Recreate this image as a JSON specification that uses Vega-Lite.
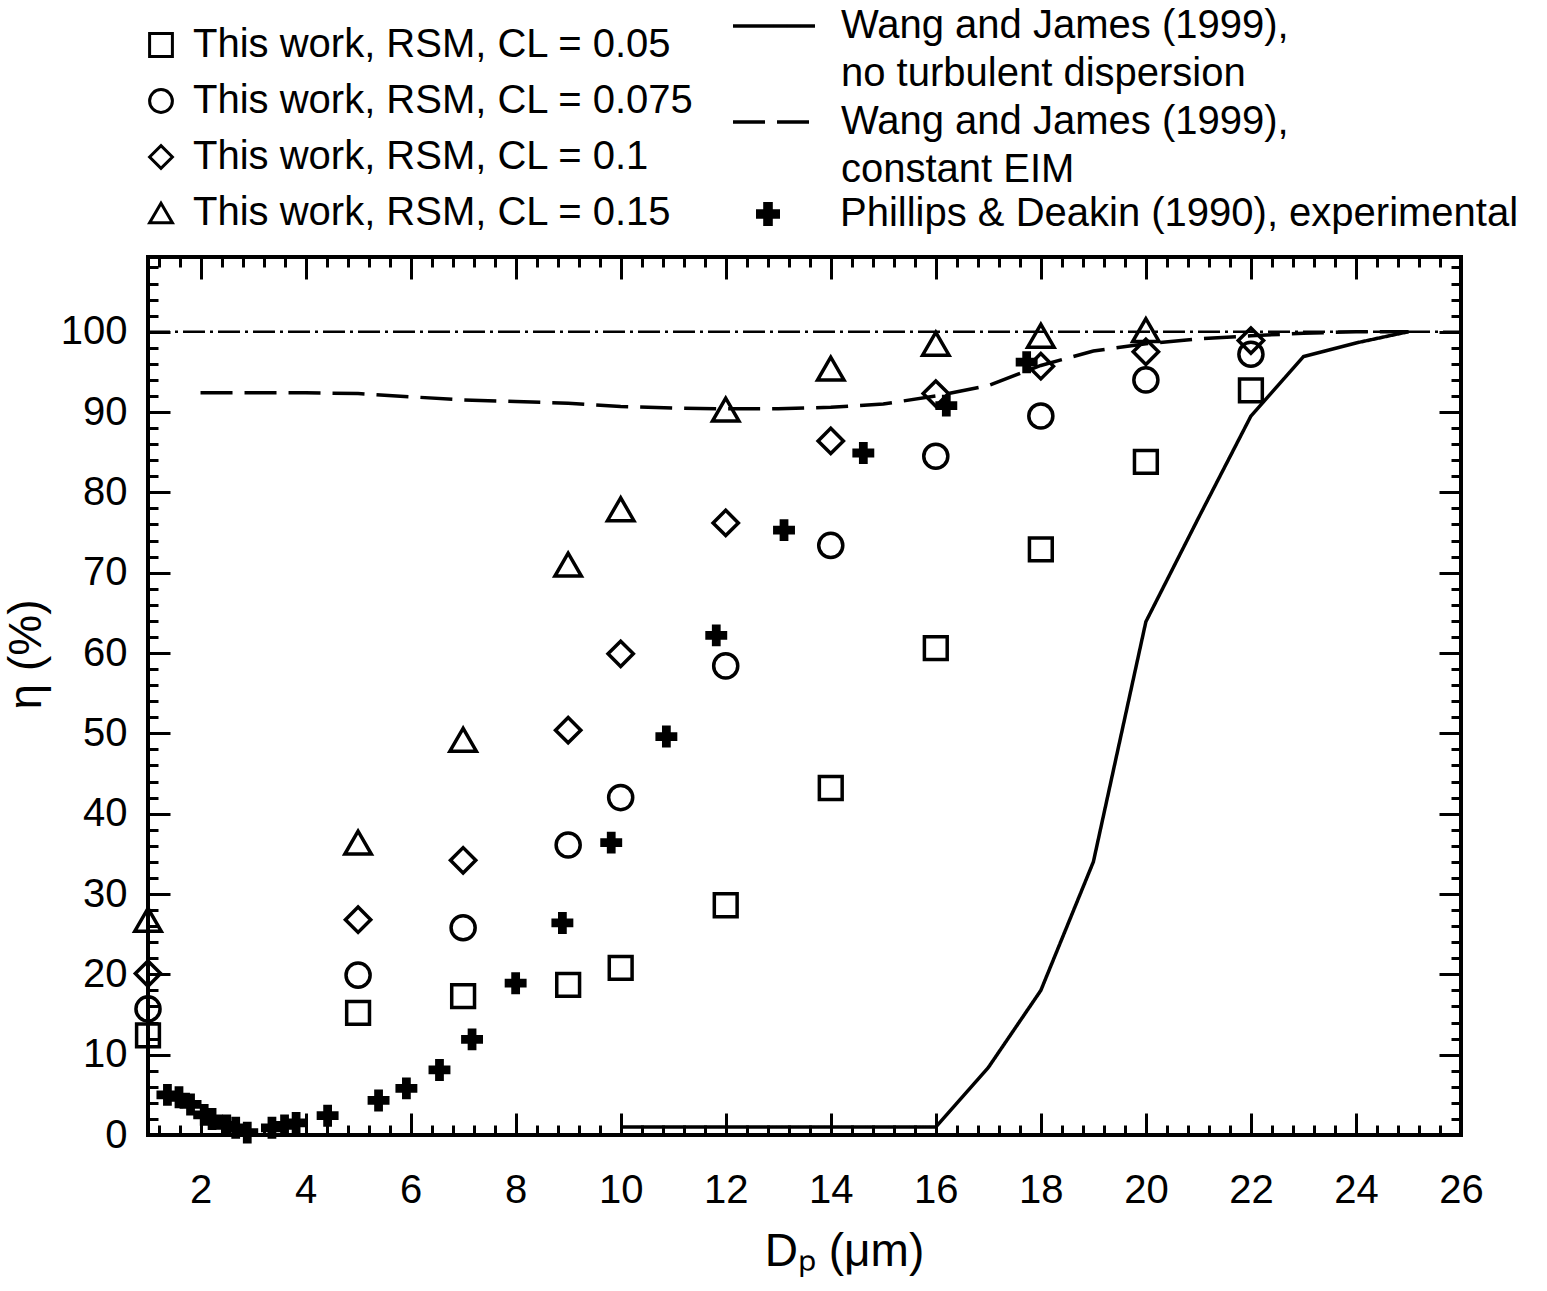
{
  "$schema": "https://vega.github.io/schema/vega-lite/v6.json",
  "description": "Collection efficiency vs particle diameter: RSM results, Wang and James (1999) models, Phillips & Deakin (1990) experiments.",
  "autosize": {"type": "none"},
  "padding": {"left": 148, "top": 257, "right": 86, "bottom": 156},
  "width": 1313,
  "height": 878,
  "background": "white",
  "datasets": {
    "rsm": [
      {"cl": "0.05", "dp": 1, "eta": 12.4},
      {"cl": "0.05", "dp": 5, "eta": 15.2},
      {"cl": "0.05", "dp": 7, "eta": 17.3},
      {"cl": "0.05", "dp": 9, "eta": 18.7},
      {"cl": "0.05", "dp": 10, "eta": 20.8},
      {"cl": "0.05", "dp": 12, "eta": 28.6},
      {"cl": "0.05", "dp": 14, "eta": 43.2},
      {"cl": "0.05", "dp": 16, "eta": 60.6},
      {"cl": "0.05", "dp": 18, "eta": 72.9},
      {"cl": "0.05", "dp": 20, "eta": 83.8},
      {"cl": "0.05", "dp": 22, "eta": 92.7},
      {"cl": "0.075", "dp": 1, "eta": 15.7},
      {"cl": "0.075", "dp": 5, "eta": 19.9},
      {"cl": "0.075", "dp": 7, "eta": 25.8},
      {"cl": "0.075", "dp": 9, "eta": 36.1},
      {"cl": "0.075", "dp": 10, "eta": 42.0},
      {"cl": "0.075", "dp": 12, "eta": 58.4},
      {"cl": "0.075", "dp": 14, "eta": 73.4},
      {"cl": "0.075", "dp": 16, "eta": 84.5},
      {"cl": "0.075", "dp": 18, "eta": 89.5},
      {"cl": "0.075", "dp": 20, "eta": 94.0},
      {"cl": "0.075", "dp": 22, "eta": 97.2},
      {"cl": "0.1", "dp": 1, "eta": 20.1},
      {"cl": "0.1", "dp": 5, "eta": 26.8},
      {"cl": "0.1", "dp": 7, "eta": 34.2},
      {"cl": "0.1", "dp": 9, "eta": 50.4},
      {"cl": "0.1", "dp": 10, "eta": 59.9},
      {"cl": "0.1", "dp": 12, "eta": 76.2},
      {"cl": "0.1", "dp": 14, "eta": 86.4},
      {"cl": "0.1", "dp": 16, "eta": 92.3},
      {"cl": "0.1", "dp": 18, "eta": 95.7},
      {"cl": "0.1", "dp": 20, "eta": 97.5},
      {"cl": "0.1", "dp": 22, "eta": 98.9},
      {"cl": "0.15", "dp": 1, "eta": 26.8},
      {"cl": "0.15", "dp": 5, "eta": 36.4},
      {"cl": "0.15", "dp": 7, "eta": 49.2},
      {"cl": "0.15", "dp": 9, "eta": 71.0},
      {"cl": "0.15", "dp": 10, "eta": 77.9},
      {"cl": "0.15", "dp": 12, "eta": 90.3},
      {"cl": "0.15", "dp": 14, "eta": 95.4},
      {"cl": "0.15", "dp": 16, "eta": 98.5},
      {"cl": "0.15", "dp": 18, "eta": 99.5},
      {"cl": "0.15", "dp": 20, "eta": 100.2}
    ],
    "exp": [
      {"dp": 1.37, "eta": 5.0},
      {"dp": 1.59, "eta": 4.7},
      {"dp": 1.81, "eta": 3.8},
      {"dp": 2.07, "eta": 2.5},
      {"dp": 2.22, "eta": 2.0},
      {"dp": 2.5, "eta": 1.2},
      {"dp": 2.67, "eta": 0.9},
      {"dp": 2.89, "eta": 0.3},
      {"dp": 3.36, "eta": 0.9},
      {"dp": 3.6, "eta": 1.2},
      {"dp": 3.82, "eta": 1.5},
      {"dp": 4.42, "eta": 2.4},
      {"dp": 5.39, "eta": 4.3},
      {"dp": 5.92, "eta": 5.8},
      {"dp": 6.55, "eta": 8.1},
      {"dp": 7.17, "eta": 11.9},
      {"dp": 8.0, "eta": 18.9},
      {"dp": 8.89, "eta": 26.4},
      {"dp": 9.82, "eta": 36.4},
      {"dp": 10.87, "eta": 49.6},
      {"dp": 11.82, "eta": 62.2},
      {"dp": 13.11, "eta": 75.3},
      {"dp": 14.62, "eta": 84.9},
      {"dp": 16.2, "eta": 90.8},
      {"dp": 17.73, "eta": 96.2}
    ],
    "wang": [
      {"model": "a", "dp": 10, "eta": 1.0},
      {"model": "a", "dp": 16, "eta": 1.0},
      {"model": "a", "dp": 17, "eta": 8.4},
      {"model": "a", "dp": 18, "eta": 18.0},
      {"model": "a", "dp": 19, "eta": 34.0},
      {"model": "a", "dp": 20, "eta": 63.9},
      {"model": "a", "dp": 21, "eta": 76.8},
      {"model": "a", "dp": 22, "eta": 89.5},
      {"model": "a", "dp": 23, "eta": 96.9},
      {"model": "a", "dp": 24, "eta": 98.6},
      {"model": "a", "dp": 25, "eta": 100},
      {"model": "c", "dp": 2, "eta": 92.4},
      {"model": "c", "dp": 3, "eta": 92.4},
      {"model": "c", "dp": 4, "eta": 92.4},
      {"model": "c", "dp": 5, "eta": 92.3},
      {"model": "c", "dp": 6, "eta": 91.9},
      {"model": "c", "dp": 7, "eta": 91.5},
      {"model": "c", "dp": 8, "eta": 91.3},
      {"model": "c", "dp": 9, "eta": 91.1},
      {"model": "c", "dp": 10, "eta": 90.7},
      {"model": "c", "dp": 11, "eta": 90.5},
      {"model": "c", "dp": 12, "eta": 90.4},
      {"model": "c", "dp": 13, "eta": 90.4},
      {"model": "c", "dp": 14, "eta": 90.6},
      {"model": "c", "dp": 15, "eta": 91.0},
      {"model": "c", "dp": 16, "eta": 92.0},
      {"model": "c", "dp": 17, "eta": 93.3},
      {"model": "c", "dp": 18, "eta": 95.8},
      {"model": "c", "dp": 19, "eta": 97.6},
      {"model": "c", "dp": 20, "eta": 98.5},
      {"model": "c", "dp": 21, "eta": 99.1},
      {"model": "c", "dp": 22, "eta": 99.5},
      {"model": "c", "dp": 23, "eta": 99.8},
      {"model": "c", "dp": 24, "eta": 100},
      {"model": "c", "dp": 25, "eta": 100}
    ],
    "ref": [
      {"dp": 1, "eta": 100},
      {"dp": 26, "eta": 100}
    ]
  },
  "layer": [
    {
      "data": {"name": "ref"},
      "mark": {"type": "line", "color": "black", "strokeWidth": 2.5, "strokeDash": [22, 5, 3, 5]},
      "encoding": {
        "x": {
          "field": "dp", "type": "quantitative",
          "scale": {"domain": [1, 26], "nice": false, "zero": false},
          "axis": {"orient": "top", "title": null, "labels": false, "tickSize": -10,
                   "values": [1.2,1.6,2,2.4,2.8,3.2,3.6,4,4.4,4.8,5.2,5.6,6,6.4,6.8,7.2,7.6,8,8.4,8.8,9.2,9.6,10,10.4,10.8,11.2,11.6,12,12.4,12.8,13.2,13.6,14,14.4,14.8,15.2,15.6,16,16.4,16.8,17.2,17.6,18,18.4,18.8,19.2,19.6,20,20.4,20.8,21.2,21.6,22,22.4,22.8,23.2,23.6,24,24.4,24.8,25.2,25.6]}
        },
        "y": {
          "field": "eta", "type": "quantitative",
          "scale": {"domain": [0, 109.3], "nice": false},
          "axis": {"orient": "right", "title": null, "labels": false, "tickSize": -10,
                   "values": [2,4,6,8,12,14,16,18,22,24,26,28,32,34,36,38,42,44,46,48,52,54,56,58,62,64,66,68,72,74,76,78,82,84,86,88,92,94,96,98,102,104,106,108]}
        }
      }
    },
    {
      "data": {"name": "wang"},
      "mark": {"type": "line", "color": "black", "strokeWidth": 3.5},
      "encoding": {
        "x": {
          "field": "dp", "type": "quantitative",
          "axis": {"orient": "bottom", "title": null, "labels": false, "tickSize": -10,
                   "values": [1.2,1.6,2,2.4,2.8,3.2,3.6,4,4.4,4.8,5.2,5.6,6,6.4,6.8,7.2,7.6,8,8.4,8.8,9.2,9.6,10,10.4,10.8,11.2,11.6,12,12.4,12.8,13.2,13.6,14,14.4,14.8,15.2,15.6,16,16.4,16.8,17.2,17.6,18,18.4,18.8,19.2,19.6,20,20.4,20.8,21.2,21.6,22,22.4,22.8,23.2,23.6,24,24.4,24.8,25.2,25.6]}
        },
        "y": {
          "field": "eta", "type": "quantitative",
          "axis": {"orient": "left", "title": null, "labels": false, "tickSize": -10,
                   "values": [2,4,6,8,12,14,16,18,22,24,26,28,32,34,36,38,42,44,46,48,52,54,56,58,62,64,66,68,72,74,76,78,82,84,86,88,92,94,96,98,102,104,106,108]}
        },
        "strokeDash": {
          "field": "model", "type": "nominal",
          "scale": {"domain": ["a", "b", "c", "d"], "range": [[1, 0], [0, 100], [32, 12], [0, 100]]},
          "legend": {
            "title": null, "orient": "none", "legendX": 606, "legendY": -251,
            "symbolType": "M-4,0H4", "symbolSize": 420, "symbolStrokeWidth": 3.5, "symbolStrokeColor": "black",
            "rowPadding": 8, "labelOffset": 47,
            "labelExpr": "datum.label == 'a' || datum.label == 'c' ? 'Wang and James (1999),' : datum.label == 'b' ? 'no turbulent dispersion' : 'constant EIM'"
          }
        }
      }
    },
    {
      "data": {"name": "exp"},
      "mark": {"type": "point", "filled": true, "color": "black", "size": 480, "opacity": 1},
      "encoding": {
        "x": {
          "field": "dp", "type": "quantitative",
          "axis": {"orient": "top", "title": null, "labels": false, "tickSize": -22,
                   "values": [2,4,6,8,10,12,14,16,18,20,22,24]}
        },
        "y": {
          "field": "eta", "type": "quantitative",
          "axis": {"orient": "right", "title": null, "labels": false, "tickSize": -22,
                   "values": [10,20,30,40,50,60,70,80,90,100]}
        },
        "shape": {
          "datum": "Phillips & Deakin (1990), experimental", "type": "nominal",
          "scale": {"range": ["cross"]},
          "legend": {
            "title": null, "orient": "none", "legendX": 600, "legendY": -63,
            "symbolSize": 576, "symbolFillColor": "black", "symbolStrokeWidth": 0,
            "labelOffset": 52
          }
        }
      }
    },
    {
      "data": {"name": "rsm"},
      "mark": {"type": "point", "filled": false, "color": "black", "strokeWidth": 3.5, "opacity": 1},
      "encoding": {
        "x": {
          "field": "dp", "type": "quantitative",
          "axis": {"orient": "bottom", "title": "Dₚ (μm)", "tickSize": -22, "labelPadding": 57,
                   "labelFlush": false, "labelOverlap": false,
                   "values": [2,4,6,8,10,12,14,16,18,20,22,24,26],
                   "titleX": 696, "titleY": 130, "titleBaseline": "alphabetic"}
        },
        "y": {
          "field": "eta", "type": "quantitative",
          "axis": {"orient": "left", "title": "η (%)", "tickSize": -22, "labelPadding": 43,
                   "labelFlush": false, "labelOverlap": false,
                   "values": [0,10,20,30,40,50,60,70,80,90,100],
                   "titleX": -122, "titleY": 397, "titleBaseline": "middle", "titleAngle": -90}
        },
        "shape": {
          "field": "cl", "type": "nominal",
          "scale": {"domain": ["0.05", "0.075", "0.1", "0.15"], "range": ["square", "circle", "diamond", "triangle-up"]},
          "legend": {
            "title": null, "orient": "none", "legendX": -7, "legendY": -232,
            "symbolSize": 520, "symbolFillColor": "transparent", "symbolStrokeColor": "black", "symbolStrokeWidth": 3,
            "rowPadding": 16, "labelOffset": 12,
            "labelExpr": "'This work, RSM, CL = ' + datum.label"
          }
        },
        "size": {
          "field": "cl", "type": "nominal",
          "scale": {"domain": ["0.05", "0.075", "0.1", "0.15"], "range": [520, 700, 1200, 1100]},
          "legend": null
        }
      }
    }
  ],
  "resolve": {
    "scale": {"shape": "independent"},
    "legend": {"shape": "independent"},
    "axis": {"x": "independent", "y": "independent"}
  },
  "config": {
    "font": "Liberation Sans",
    "view": {"stroke": "black", "strokeWidth": 4},
    "axis": {
      "grid": false, "domain": false, "ticks": true,
      "tickColor": "black", "tickWidth": 3,
      "labelFont": "Liberation Sans", "labelFontSize": 40, "labelColor": "black",
      "titleFont": "Liberation Sans", "titleFontSize": 46, "titleFontWeight": "normal", "titleColor": "black"
    },
    "legend": {
      "labelFont": "Liberation Sans", "labelFontSize": 40, "labelColor": "black",
      "labelLimit": 1000, "padding": 0
    }
  }
}
